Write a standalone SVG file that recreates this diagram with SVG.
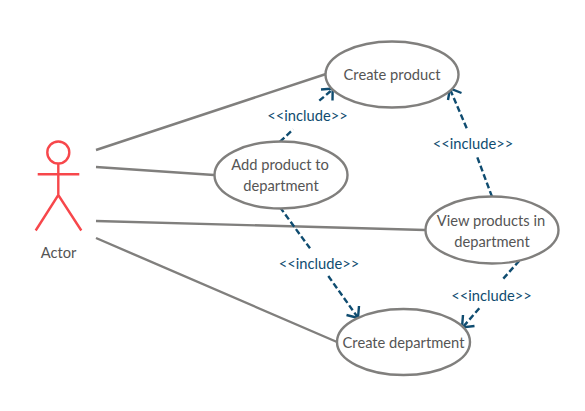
<svg xmlns="http://www.w3.org/2000/svg" width="585" height="411" viewBox="0 0 585 411">
<style>
text{font-family:Lato,"Liberation Sans",sans-serif;text-anchor:middle;font-size:14.7px}
.n{fill:#fff;stroke:#807f7d;stroke-width:2.4}
.t{fill:#555}
.l{fill:#0f4c70}
.a{fill:none;stroke:#807f7d;stroke-width:2.4}
.d{fill:none;stroke:#0f4c70;stroke-width:2.4;stroke-dasharray:6 3}
.h{fill:none;stroke:#0f4c70;stroke-width:2.4}
.r{fill:none;stroke:#f7474b;stroke-width:2.4}
</style>
<rect width="585" height="411" fill="#fff"/>
<g id="connectors">
<path class="a" d="M96 150L326 74M96 167L214 175M96 221L425 230M96 238L337 342"/>
<path class="d" d="M280 141.700L293.300 129.300M319.300 100.700L332.700 89.300"/>
<path class="h" d="M321 89.500L332.700 88.500L332.500 100.500"/>
<path class="d" d="M492 196.700L477.300 157.300M466.700 128.300L450 89"/>
<path class="h" d="M448 100L450 88.500L461.500 93"/>
<path class="d" d="M280 207.300L310 248.300M328.300 276L357.700 317.300"/>
<path class="h" d="M346.500 315L358 318L359 306"/>
<path class="d" d="M519.300 260.700L502.700 279.300M479.300 308.300L462.700 327.300"/>
<path class="h" d="M463 315L462 327.500L474.500 326"/>
<text class="l" x="307.500" y="121">&lt;&lt;include&gt;&gt;</text>
<text class="l" x="473" y="149">&lt;&lt;include&gt;&gt;</text>
<text class="l" x="319" y="269">&lt;&lt;include&gt;&gt;</text>
<text class="l" x="491.500" y="300.500">&lt;&lt;include&gt;&gt;</text>
</g>
<g id="actor">
<circle class="r" cx="58.300" cy="152.500" r="11"/>
<path class="r" d="M58.300 163.500V195M37.700 174.300H79.300M35.700 230.500L58.300 195L81.300 230.500"/>
<text class="t" x="58.500" y="258">Actor</text>
</g>
<g id="create-product">
<ellipse class="n" cx="392" cy="74.500" rx="66.500" ry="33"/>
<text class="t" x="392" y="80">Create product</text>
</g>
<g id="add-product">
<ellipse class="n" cx="281" cy="175" rx="66.500" ry="33.500"/>
<text class="t" x="280" y="170">Add product to</text>
<text class="t" x="281" y="191">department</text>
</g>
<g id="view-products">
<ellipse class="n" cx="492" cy="230" rx="66.500" ry="33.500"/>
<text class="t" x="491" y="226">View products in</text>
<text class="t" x="492" y="247">department</text>
</g>
<g id="create-department">
<ellipse class="n" cx="403.500" cy="342" rx="66.500" ry="33"/>
<text class="t" x="403.500" y="348">Create department</text>
</g>
</svg>
